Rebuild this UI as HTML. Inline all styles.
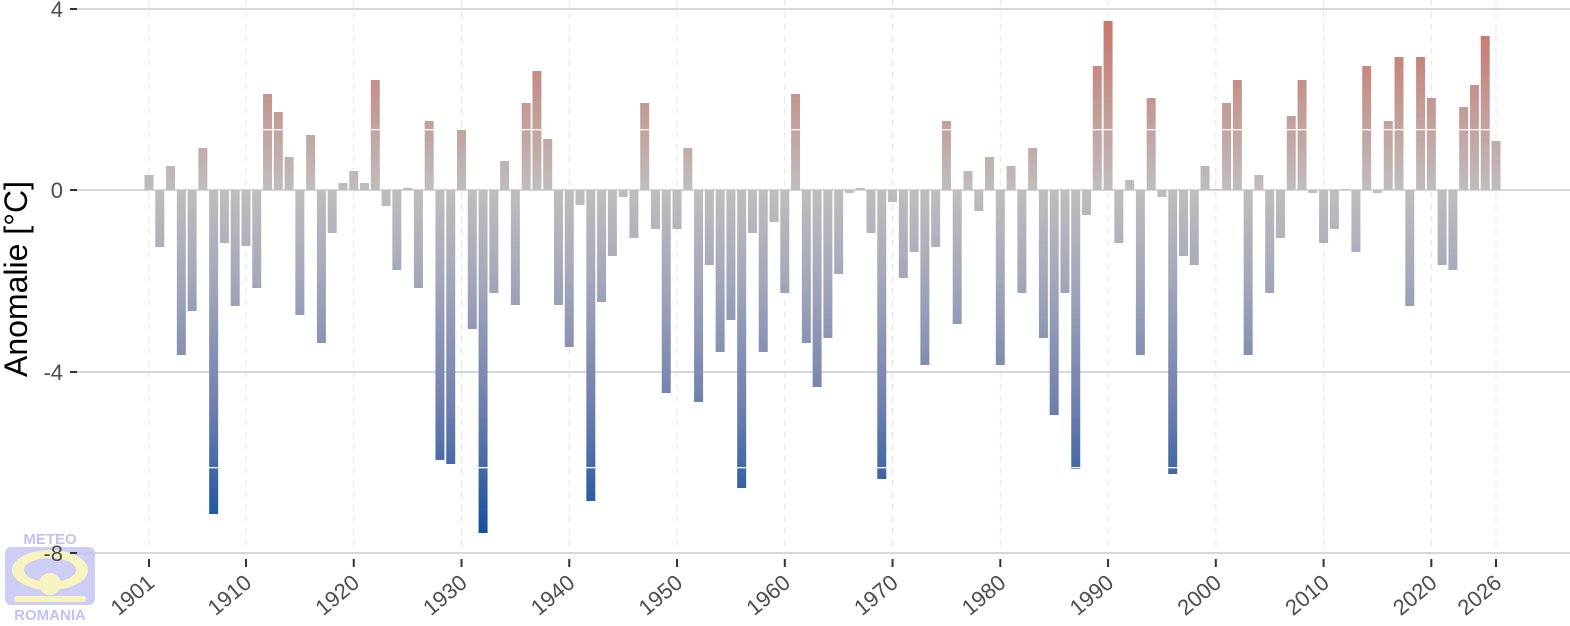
<!DOCTYPE html>
<html><head><meta charset="utf-8"><style>
body{margin:0;background:#fff;width:1570px;height:621px;overflow:hidden;font-family:"Liberation Sans",sans-serif}
</style></head><body>
<svg id="s" width="1570" height="621" xmlns="http://www.w3.org/2000/svg">
<defs>
<linearGradient id="g" gradientUnits="userSpaceOnUse" x1="0" y1="20" x2="0" y2="535">
<stop offset="0" stop-color="#c8766a"/>
<stop offset="0.33" stop-color="#bfbdbd"/>
<stop offset="0.5" stop-color="#a4a8ba"/>
<stop offset="0.75" stop-color="#6f80ae"/>
<stop offset="1" stop-color="#14509e"/>
</linearGradient>
</defs>
<g id="grid"></g>
<g id="bars"></g>
<g opacity="0.85">
<text x="50" y="544" font-size="15" font-weight="bold" fill="#b4b8f0" text-anchor="middle">METEO</text>
<rect x="5" y="547" width="90" height="58" rx="6" fill="#c4c6f4"/>
<ellipse cx="50" cy="570" rx="38" ry="20" fill="#f6f3b4"/>
<ellipse cx="50" cy="570" rx="26" ry="12" fill="#c4c6f4"/>
<circle cx="50" cy="584" r="11" fill="#f6f3b4"/>
<rect x="14" y="596" width="72" height="6" rx="3" fill="#f6f3b4"/>
<text x="50" y="620" font-size="15" font-weight="bold" fill="#b4b8f0" text-anchor="middle">ROMANIA</text>
</g>
<g id="ax"></g>
<text x="27" y="279" font-size="32" fill="#000" text-anchor="middle" transform="rotate(-90 27 279)">Anomalie [°C]</text>
</svg>
<script>
var ends=[175,247,166,355,311,148,514,243,306,246,288,94,112,157,315,135,343,233,183,171,183,80,206,270,188,288,121,460,464,130,329,533,293,161,305,103,71,139,305,347,205,501,302,256,197,238,103,229,393,229,148,402,265,352,320,488,233,352,222,293,94,343,387,338,274,193,188,233,479,202,278,252,365,247,121,324,171,211,157,365,166,293,148,338,415,293,469,215,66,21,243,180,355,98,197,474,256,265,166,189,103,80,355,175,293,238,116,80,193,243,229,189,252,66,193,121,57,306,57,98,265,270,107,85,36,141];
var NS="http://www.w3.org/2000/svg";
function el(p,t,a){var e=document.createElementNS(NS,t);for(var k in a)e.setAttribute(k,a[k]);p.appendChild(e);return e;}
var grid=document.getElementById('grid'),bars=document.getElementById('bars'),ax=document.getElementById('ax');
function X(y){return 149+(y-1901)*10.776;}
var yrs=[1901,1910,1920,1930,1940,1950,1960,1970,1980,1990,2000,2010,2020,2026];
yrs.forEach(function(y){el(grid,'line',{x1:X(y),x2:X(y),y1:0,y2:553,stroke:'#e3e3e3','stroke-width':1,'stroke-dasharray':'6,6'});});
[[9,'4'],[190,'0'],[372,'-4'],[553,'-8']].forEach(function(t){
el(grid,'line',{x1:77,x2:1570,y1:t[0],y2:t[0],stroke:'#d6d6d6','stroke-width':2});
el(ax,'line',{x1:70,x2:77,y1:t[0],y2:t[0],stroke:'#333','stroke-width':2});
var tx=el(ax,'text',{x:63,y:t[0]+8,'font-size':22,fill:'#4d4d4d','text-anchor':'end'});tx.textContent=t[1];
});
ends.forEach(function(e,i){
var x=X(1901+i)-4.5,y0=Math.min(e,190),h=Math.max(Math.abs(e-190),1);
el(bars,'rect',{x:x,y:y0,width:9,height:h,fill:'url(#g)'});
[129,467].forEach(function(w){if(w>y0+1&&w<y0+h-1)el(bars,'rect',{x:x,y:w,width:9,height:1.3,fill:'#fff'});});
});
yrs.forEach(function(y){var x=X(y);
el(ax,'line',{x1:x,x2:x,y1:559,y2:567,stroke:'#333','stroke-width':2});
var t=el(ax,'text',{x:x+7,y:585,'font-size':22,fill:'#4d4d4d','text-anchor':'end',transform:'rotate(-40 '+(x+7)+' 585)'});t.textContent=y;});
</script>
</body></html>
